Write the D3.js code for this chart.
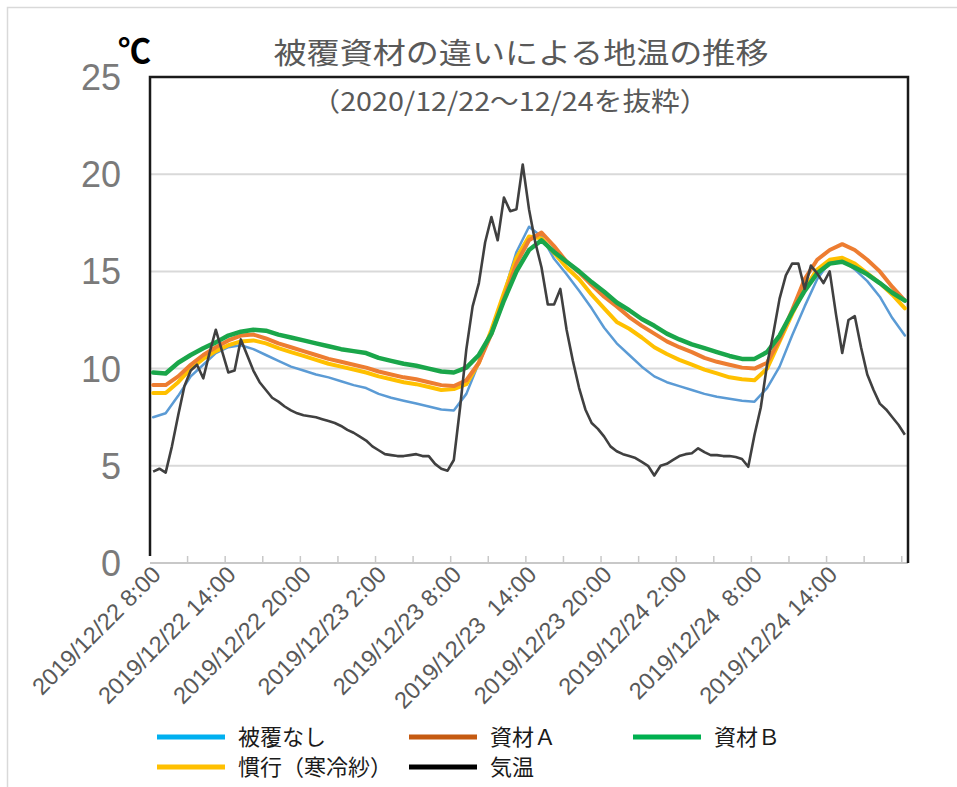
<!DOCTYPE html>
<html><head><meta charset="utf-8">
<script src="https://cdn.jsdelivr.net/npm/d3@7"></script>
<style>body{margin:0;background:#fff} svg{display:block}</style>
</head><body>
<svg id="c" width="957" height="787"></svg>
<script>
// ---- data ----
const titleText = "被覆資材の違いによる地温の推移";
const subtitleText = "（2020/12/22～12/24を抜粋）";
const unitText = "℃";
const yTicks = [0, 5, 10, 15, 20, 25];
const xTickLabels = ["2019/12/22 8:00","2019/12/22 14:00","2019/12/22 20:00","2019/12/23 2:00","2019/12/23 8:00","2019/12/23  14:00","2019/12/23 20:00","2019/12/24 2:00","2019/12/24  8:00","2019/12/24 14:00"];
const seriesNames = ["被覆なし","資材Ａ","資材Ｂ","慣行（寒冷紗）","気温"];
// hourly soil temperatures from 2019/12/22 8:00 to 2019/12/24 20:00
const bare = [7.5,7.7,8.6,9.6,10.2,10.8,11.1,11.2,11.0,10.7,
  10.4,10.1,9.9,9.7,9.55,9.35,9.15,9.0,8.7,8.5,
  8.35,8.2,8.05,7.9,7.85,8.7,10.3,11.8,13.9,16.0,
  17.3,16.8,15.65,14.85,14.0,13.1,12.1,11.3,10.7,10.1,
  9.6,9.3,9.1,8.9,8.7,8.55,8.45,8.35,8.3,9.0,
  10.1,11.7,13.2,14.6,15.5,15.6,15.1,14.5,13.7,12.6,
  11.7];
const materialA = [9.15,9.15,9.6,10.2,10.7,11.1,11.45,11.7,11.75,11.55,
  11.3,11.1,10.9,10.7,10.5,10.35,10.2,10.05,9.85,9.7,
  9.55,9.45,9.3,9.15,9.1,9.4,10.3,11.8,13.6,15.4,
  16.6,17.0,16.3,15.5,14.95,14.3,13.7,13.2,12.65,12.2,
  11.8,11.4,11.1,10.85,10.55,10.35,10.2,10.05,10.0,10.3,
  11.5,13.0,14.6,15.6,16.1,16.4,16.1,15.6,15.0,14.2,
  13.5];
const materialB = [9.8,9.75,10.3,10.7,11.05,11.35,11.7,11.9,12.0,11.95,
  11.75,11.6,11.45,11.3,11.15,11.0,10.9,10.8,10.55,10.4,
  10.25,10.15,10.0,9.85,9.8,10.05,10.7,11.8,13.5,15.0,
  16.1,16.6,16.0,15.5,15.0,14.45,13.95,13.4,13.0,12.55,
  12.2,11.8,11.5,11.25,11.05,10.85,10.65,10.5,10.5,10.85,
  11.7,12.9,14.0,14.9,15.4,15.5,15.2,14.85,14.4,13.9,
  13.5];
const conventional = [8.75,8.75,9.3,10.0,10.5,10.9,11.2,11.4,11.45,11.3,
  11.05,10.85,10.65,10.45,10.25,10.1,9.95,9.8,9.6,9.45,
  9.3,9.2,9.05,8.9,8.95,9.2,10.3,12.0,13.9,15.7,
  16.8,16.7,15.95,15.2,14.6,13.8,13.1,12.4,12.05,11.6,
  11.1,10.75,10.45,10.2,9.95,9.75,9.55,9.45,9.4,10.0,
  11.4,12.8,14.1,15.1,15.6,15.7,15.4,14.9,14.4,13.8,
  13.1];
// 30-minute air temperatures over the same period
const airTemp = [4.7,4.85,4.65,6.0,7.6,9.1,9.9,10.2,9.5,10.8,
  12.0,10.9,9.8,9.9,11.5,10.7,9.9,9.3,8.9,8.5,
  8.3,8.05,7.85,7.7,7.6,7.55,7.5,7.4,7.3,7.2,
  7.05,6.85,6.7,6.5,6.3,6.0,5.8,5.6,5.55,5.5,
  5.5,5.55,5.6,5.5,5.5,5.1,4.85,4.75,5.3,8.0,
  11.0,13.2,14.4,16.5,17.8,16.6,18.8,18.1,18.2,20.5,
  18.2,16.5,15.2,13.3,13.3,14.1,12.0,10.4,9.0,7.9,
  7.2,6.9,6.5,6.0,5.75,5.6,5.5,5.4,5.2,5.0,
  4.5,5.0,5.1,5.3,5.5,5.6,5.65,5.9,5.7,5.55,
  5.55,5.5,5.5,5.45,5.35,4.95,6.6,8.0,10.2,11.8,
  13.6,14.8,15.4,15.4,14.1,15.3,14.9,14.4,15.0,12.8,
  10.8,12.5,12.7,11.1,9.7,8.9,8.2,7.9,7.5,7.1,
  6.6];

// ---- chart ----
const HOUR = 3600e3;
const t0 = new Date(2019, 11, 22, 8, 0);
const svg = d3.select("#c");
const L = 150, R = 908, T = 77, B = 563;
const x = d3.scaleTime()
  .domain([new Date(+t0 - 0.25 * HOUR), new Date(+t0 + 60.25 * HOUR)])
  .range([L, R]);
const y = d3.scaleLinear().domain([0, 25]).range([B, T]);

// outer chart border
svg.append("path").attr("d", "M7.5,787 V7.5 H957").attr("fill", "none").attr("stroke", "#d9d9d9").attr("stroke-width", 1.5);

// gridlines
svg.append("g").selectAll("line").data(yTicks.filter(v => v > 0 && v < 25)).join("line")
  .attr("x1", L).attr("x2", R).attr("y1", d => y(d)).attr("y2", d => y(d))
  .attr("stroke", "#d9d9d9").attr("stroke-width", 2);

// x axis line + tick marks (every 3 h, at category boundaries)
const tickTimes = d3.range(1, 21).map(k => new Date(+t0 - 0.25 * HOUR + 3 * k * HOUR));
svg.append("line").attr("x1", L).attr("x2", R).attr("y1", y(0)).attr("y2", y(0))
  .attr("stroke", "#c8c8c8").attr("stroke-width", 2);
svg.append("g").selectAll("line").data(tickTimes).join("line")
  .attr("x1", d => x(d)).attr("x2", d => x(d)).attr("y1", y(0)).attr("y2", y(0) - 7)
  .attr("stroke", "#c8c8c8").attr("stroke-width", 1.5);

// frame
svg.append("path").attr("d", `M${L},${B - 7} V${T} H${R} V${B}`)
  .attr("fill", "none").attr("stroke", "#1a1a1a").attr("stroke-width", 2.5);

// y labels
svg.append("g").selectAll("text").data(yTicks).join("text")
  .attr("x", 121).attr("y", d => y(d) + 13)
  .attr("text-anchor", "end")
  .attr("font-family", "Liberation Sans, Arial, sans-serif")
  .attr("font-size", 36).attr("fill", "#7a7a7a")
  .text(d => d);

// x labels
svg.append("g").selectAll("text").data(xTickLabels).join("text")
  .attr("transform", (d, i) => `translate(${x(new Date(+t0 + 6 * i * HOUR)) + 9},${B + 13}) rotate(-45)`)
  .attr("text-anchor", "end")
  .attr("font-family", "Liberation Sans, Arial, sans-serif")
  .attr("font-size", 23.5).attr("fill", "#595959")
  .style("white-space", "pre")
  .text(d => d);

// lines
const soilSeries = [
  {name: seriesNames[0], values: bare, color: "#5b9bd5", w: 2.5},
  {name: seriesNames[3], values: conventional, color: "#ffc000", w: 4},
  {name: seriesNames[1], values: materialA, color: "#ed7d31", w: 4},
  {name: seriesNames[2], values: materialB, color: "#1aa64a", w: 4.5}
];
const lineGen = d3.line().x(d => x(d.t)).y(d => y(d.v)).curve(d3.curveLinear);
soilSeries.forEach(s => {
  const pts = s.values.map((v, i) => ({t: new Date(+t0 + i * HOUR), v}));
  svg.append("path").datum(pts).attr("d", lineGen)
    .attr("fill", "none").attr("stroke", s.color).attr("stroke-width", s.w)
    .attr("stroke-linejoin", "round").attr("stroke-linecap", "round");
});
const airPts = airTemp.map((v, i) => ({t: new Date(+t0 + i * 0.5 * HOUR), v}));
svg.append("path").datum(airPts).attr("d", lineGen)
  .attr("fill", "none").attr("stroke", "#404040").attr("stroke-width", 2.6)
  .attr("stroke-linejoin", "round");

// titles
svg.append("text").attr("x", 521).attr("y", 64).attr("text-anchor", "middle")
  .attr("font-family", "Noto Sans CJK JP, sans-serif").attr("font-size", 29)
  .attr("fill", "#595959").attr("textLength", 495).attr("lengthAdjust", "spacingAndGlyphs")
  .text(titleText);
svg.append("text").attr("x", 510).attr("y", 111).attr("text-anchor", "middle")
  .attr("font-family", "Noto Sans CJK JP, sans-serif").attr("font-size", 26)
  .attr("fill", "#595959").attr("textLength", 397).attr("lengthAdjust", "spacingAndGlyphs")
  .text(subtitleText);
svg.append("text").attr("x", 118).attr("y", 63)
  .attr("font-family", "Noto Sans CJK JP, sans-serif").attr("font-size", 33).attr("font-weight", "bold")
  .attr("fill", "#000").text(unitText);

// legend
const legendColors = ["#00b0f0", "#c55a11", "#00b050", "#ffc000", "#000000"];
const legendPos = [[157, 737], [409, 737], [633, 737], [157, 767], [409, 767]];
const lg = svg.append("g").selectAll("g").data(seriesNames).join("g")
  .attr("transform", (d, i) => `translate(${legendPos[i][0]},${legendPos[i][1]})`);
lg.append("line").attr("x1", 0).attr("x2", 68).attr("y1", 0).attr("y2", 0)
  .attr("stroke", (d, i) => legendColors[i]).attr("stroke-width", 5);
lg.append("text").attr("x", 81).attr("y", 8)
  .attr("font-family", "Noto Sans CJK JP, sans-serif").attr("font-size", 22)
  .attr("fill", "#1a1a1a").text(d => d);
</script>
</body></html>
